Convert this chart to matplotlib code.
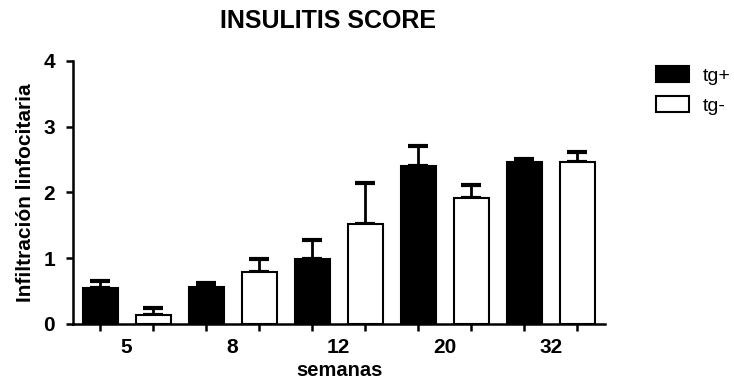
import numpy as np
import matplotlib
matplotlib.use("Agg")
import matplotlib.pyplot as plt
from matplotlib.patches import Patch

plt.rcParams["font.family"] = ["Liberation Sans", "DejaVu Sans"]

# data
weeks = ["5", "8", "12", "20", "32"]
tg_pos = [0.54, 0.56, 0.99, 2.41, 2.47]
tg_pos_err = [0.12, 0.06, 0.29, 0.30, 0.04]
tg_neg = [0.13, 0.79, 1.52, 1.92, 2.46]
tg_neg_err = [0.12, 0.20, 0.63, 0.19, 0.16]

x = np.arange(len(weeks))
offset = 0.25
width = 0.33

fig = plt.figure(figsize=(7.34, 3.87), dpi=100)
ax = fig.add_axes([0.0995, 0.1628, 0.7248, 0.6796])

err_kw = dict(fmt="none", ecolor="black", elinewidth=2.0, capsize=7, capthick=3, zorder=1)
ax.errorbar(x - offset, tg_pos, yerr=[np.zeros(len(x)), tg_pos_err], **err_kw)
ax.errorbar(x + offset, tg_neg, yerr=[np.zeros(len(x)), tg_neg_err], **err_kw)
ax.bar(x - offset, tg_pos, width, color="black", edgecolor="black", linewidth=1.5, zorder=2)
ax.bar(x + offset, tg_neg, width, color="white", edgecolor="black", linewidth=1.5, zorder=2)

ax.set_xlim(-0.505, 4.51)
ax.set_ylim(0, 4)
ax.set_yticks([0, 1, 2, 3, 4])

# ticks under every bar, week labels centred on each pair
ax.set_xticks(np.concatenate([x - offset, x + offset]))
ax.set_xticklabels([])
ax.set_xticks(x, weeks, minor=True)
ax.tick_params(axis="x", which="minor", length=0, pad=10)
ax.tick_params(axis="both", which="major", length=5, width=1.8, direction="out")
ax.tick_params(axis="y", pad=8)

for lab in ax.get_xticklabels(minor=True) + ax.get_yticklabels():
    lab.set_fontweight("bold")
    lab.set_fontsize(15)

for side in ["top", "right"]:
    ax.spines[side].set_visible(False)
for side in ["left", "bottom"]:
    ax.spines[side].set_linewidth(1.8)

ax.set_xlabel("semanas", fontsize=14.5, fontweight="bold", labelpad=3)
ax.set_ylabel("Infiltración linfocitaria", fontsize=15, fontweight="bold", labelpad=6)
ax.set_title("INSULITIS SCORE", fontsize=18, fontweight="bold", pad=24, x=0.48)

handles = [
    Patch(facecolor="black", edgecolor="black", linewidth=1.5, label="tg+"),
    Patch(facecolor="white", edgecolor="black", linewidth=1.5, label="tg-"),
]
fig.legend(handles=handles, loc="upper left", bbox_to_anchor=(0.894, 0.83),
           frameon=False, fontsize=14, handlelength=1.7, handleheight=0.9,
           labelspacing=0.6, handletextpad=0.7, borderaxespad=0, borderpad=0)

fig.savefig("out.png", dpi=100)
